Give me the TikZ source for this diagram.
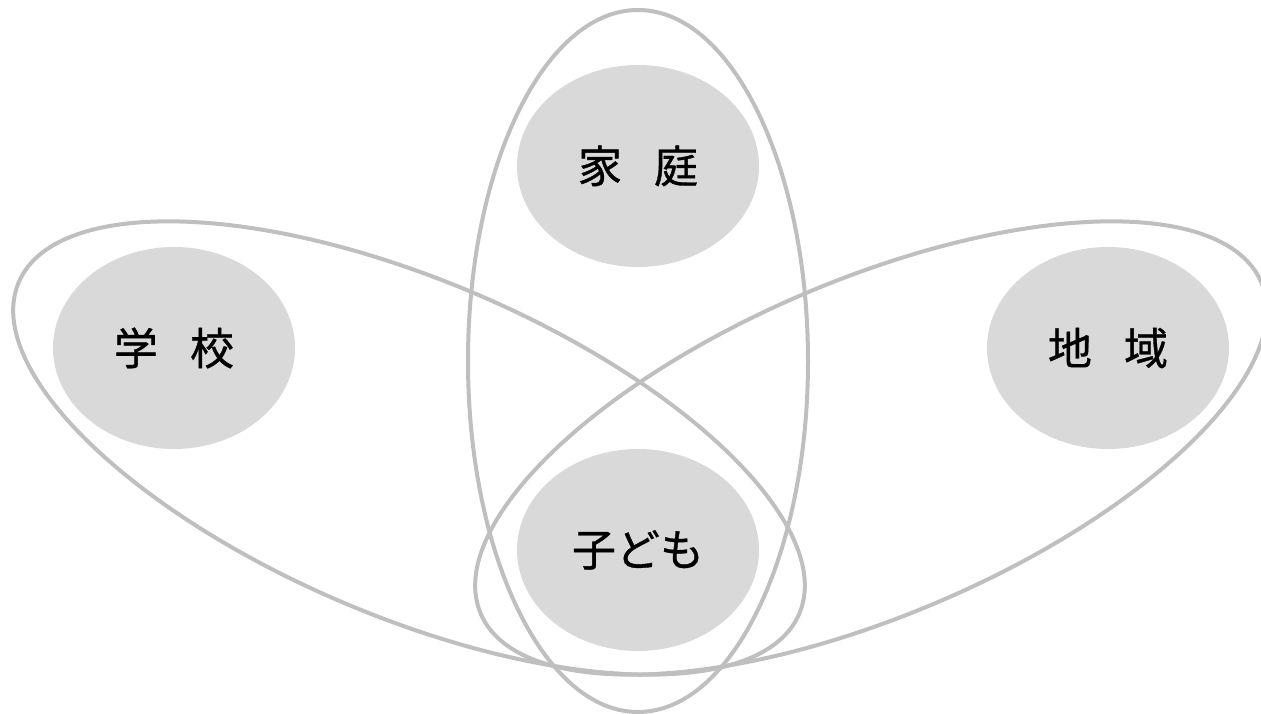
\documentclass[tikz,border=0pt]{standalone}
\usepackage{fontspec}
\newfontfamily\jp[FakeBold=0.8]{Noto Sans CJK JP}
\usetikzlibrary{shapes.geometric}
\definecolor{ringgray}{HTML}{BFBFBF}
\definecolor{blobgray}{HTML}{D9D9D9}
\begin{document}
\begin{tikzpicture}[x=1pt,y=1pt,
  ring/.style={ellipse, draw=ringgray, line width=4pt, inner sep=0pt, outer sep=0pt},
  blob/.style={ellipse, fill=blobgray, minimum width=242pt, minimum height=202pt, inner sep=0pt,
    font=\jp\fontsize{44}{50}\selectfont, text=black}]
\useasboundingbox (0,0) rectangle (1261,714);
% filled circles
\node[blob] (home) at (638,548) {家\hspace{0.73em}庭};
\node[blob] (school) at (174,366) {学\hspace{0.73em}校};
\node[blob] (community) at (1108,366) {地\hspace{0.73em}域};
\node[blob] (child) at (638,164) {子ども};
% rings
\node[ring, minimum width=340pt, minimum height=702pt] (homering) at (638,353) {};
\node[ring, rotate=-23, minimum width=848pt, minimum height=336pt] (schoolring) at (409,266) {};
\node[ring, rotate=23, minimum width=848pt, minimum height=336pt] (communityring) at (871,266) {};
\end{tikzpicture}
\end{document}
